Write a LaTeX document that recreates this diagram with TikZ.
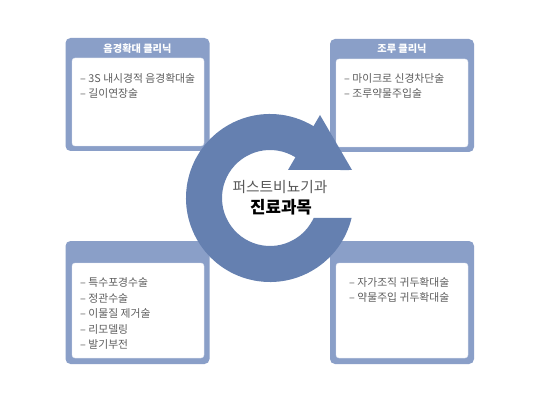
\documentclass[tikz,border=0pt]{standalone}
\usepackage{fontspec}
\newfontfamily\kr{Noto Sans CJK KR}
\usetikzlibrary{calc}
\definecolor{frame}{HTML}{8A9FC8}
\definecolor{wheel}{HTML}{6580B0}
\definecolor{ink}{HTML}{5E5E5E}

\begin{document}
\begin{tikzpicture}[x=1pt,y=-1pt,font=\kr,
  panel/.style={fill=frame,rounded corners=5pt,minimum width=144pt,inner sep=0pt},
  sheet/.style={fill=white,draw=frame!25,rounded corners=3pt,minimum width=132pt,inner sep=0pt},
  head/.style={text=white,font=\kr\bfseries\fontsize{10.2}{12}\selectfont,inner sep=0pt},
  items/.style={text=ink,font=\kr\fontsize{10.8}{15.5}\selectfont,align=left,anchor=north west,inner sep=0pt}]
\useasboundingbox[fill=white] (0,0) rectangle (560,409);

%% four clinic panels
\node[panel,minimum height=113pt] (enlarge) at (137.5,94.5) {};
\node[sheet,minimum height=88pt] (enlargein) at (138,102) {};
\node[head] (enlargehead) at (137.5,48.5) {음경확대 클리닉};
\node[items] (enlargelist) at (80,73) {– 3S 내시경적 음경확대술\\– 길이연장술};

\node[panel,minimum height=113pt] (early) at (402,95.5) {};
\node[sheet,minimum height=88pt] (earlyin) at (402,103) {};
\node[head] (earlyhead) at (402,48.5) {조루 클리닉};
\node[items] (earlylist) at (344,73) {– 마이크로 신경차단술\\– 조루약물주입술};

\node[panel,minimum height=123pt] (surgery) at (137.5,302.5) {};
\node[sheet,minimum height=95pt] (surgeryin) at (138,310.5) {};
\node[items] (surgerylist) at (80,277.5) {– 특수포경수술\\– 정관수술\\– 이물질 제거술\\– 리모델링\\– 발기부전};

\node[panel,minimum height=123pt] (glans) at (402,302.5) {};
\node[sheet,minimum height=95pt] (glansin) at (402,310.5) {};
\node[items] (glanslist) at (349,277) {– 자가조직 귀두확대술\\– 약물주입 귀두확대술};

%% circular arrow in the middle
\coordinate (hub) at (270,198);
\fill[wheel] ($(hub)+(13.77:84)$) arc[start angle=13.77,end angle=340.53,radius=84]
  -- ($(hub)+(324.3:48)$) arc[start angle=324.3,end angle=24.6,radius=48] -- cycle;
\fill[wheel] (288,170) -- (320,115) -- (352,170) -- cycle;
\node[text=black!65,font=\kr\fontsize{14.7}{16}\selectfont,inner sep=0pt] (brand) at (280,187) {퍼스트비뇨기과};
\node[text=black,font=\kr\bfseries\fontsize{16.8}{18}\selectfont,inner sep=0pt] (subject) at (281,207) {진료과목};
\end{tikzpicture}
\end{document}
